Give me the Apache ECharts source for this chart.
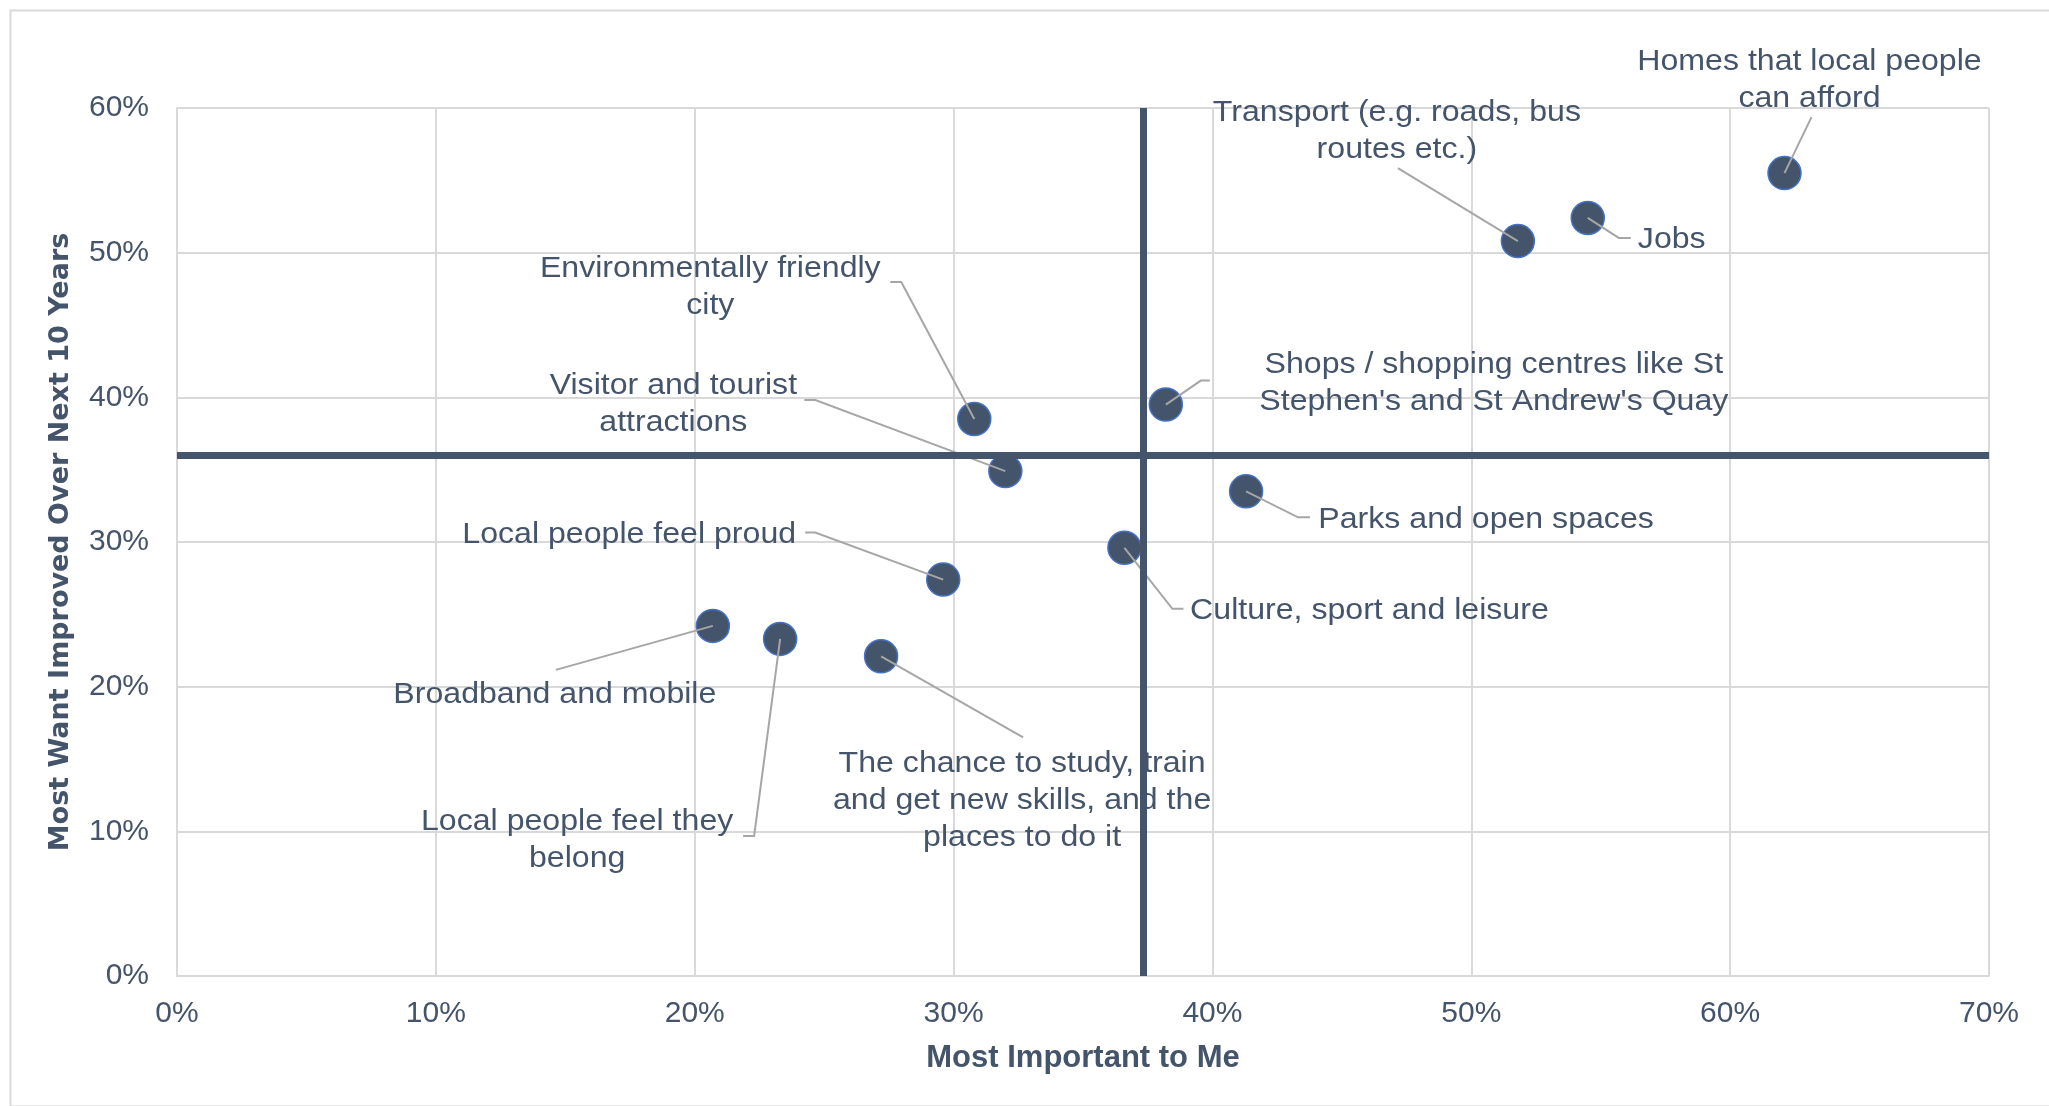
<!DOCTYPE html>
<html>
<head>
<meta charset="utf-8">
<script src="https://cdn.jsdelivr.net/npm/echarts@6/dist/echarts.min.js"></script>
<style>
  html, body { margin: 0; padding: 0; background: #ffffff; }
  #chart { width: 2049px; height: 1106px; }
</style>
</head>
<body>
<div id="chart"></div>
<script>
// ---- data ----
const categories = [
  'Homes that local people can afford',
  'Jobs',
  'Transport (e.g. roads, bus routes etc.)',
  "Shops / shopping centres like St Stephen's and St Andrew's Quay",
  'Environmentally friendly city',
  'Visitor and tourist attractions',
  'Parks and open spaces',
  'Culture, sport and leisure',
  'Local people feel proud',
  'Broadband and mobile',
  'Local people feel they belong',
  'The chance to study, train and get new skills, and the places to do it'
];
const displayLabels = [
  'Homes that local people\ncan afford',
  'Jobs',
  'Transport (e.g. roads, bus\nroutes etc.)',
  "Shops / shopping centres like St\nStephen's and St Andrew's Quay",
  'Environmentally friendly\ncity',
  'Visitor and tourist\nattractions',
  'Parks and open spaces',
  'Culture, sport and leisure',
  'Local people feel proud',
  'Broadband and mobile',
  'Local people feel they\nbelong',
  'The chance to study, train\nand get new skills, and the\nplaces to do it'
];
const mostImportant = [62.1, 54.5, 51.8, 38.2, 30.8, 32.0, 41.3, 36.6, 29.6, 20.7, 23.3, 27.2];
const mostWantImproved = [55.5, 52.4, 50.8, 39.5, 38.5, 34.9, 33.5, 29.6, 27.4, 24.2, 23.3, 22.1];
const xTicks = [0, 10, 20, 30, 40, 50, 60, 70];
const yTicks = [0, 10, 20, 30, 40, 50, 60];

// ---- label placement (pixel offsets from each point; styling only) ----
const labelLayout = [
  { label: [25, -93],   leader: [[27, -56]] },
  { label: [84, 22],    leader: [[31, 20], [43, 20]] },
  { label: [-121, -110], leader: [[-120, -73]] },
  { label: [328, -21],  leader: [[35, -24], [44, -24]] },
  { label: [-264, -132], leader: [[-73, -137], [-84, -137]] },
  { label: [-332, -67], leader: [[-190, -71], [-201, -71]] },
  { label: [240, 28],   leader: [[52, 26], [64, 26]] },
  { label: [245, 63],   leader: [[48, 61], [59, 61]] },
  { label: [-314, -45], leader: [[-128, -47], [-138, -47]] },
  { label: [-158, 69],  leader: [[-157, 44]] },
  { label: [-203, 201], leader: [[-26, 197], [-37, 197]] },
  { label: [141, 144],  leader: [[142, 81]] }
];

const points = mostImportant.map((x, i) => [x, mostWantImproved[i], categories[i]]);

const textColor = '#44546A';
const gridColor = '#D9D9D9';
const fontArial = "'Liberation Sans', Arial, sans-serif";

const chart = echarts.init(document.getElementById('chart'), null, { renderer: 'canvas' });
chart.setOption({
  animation: false,
  backgroundColor: '#ffffff',
  graphic: [{
    type: 'rect', left: 8, top: 8, silent: true,
    shape: { width: 2100, height: 1096 },
    style: { fill: 'none', stroke: gridColor, lineWidth: 2 }
  }],
  grid: { left: 177, right: 60, top: 108, bottom: 130, containLabel: false },
  xAxis: {
    type: 'value', min: xTicks[0], max: xTicks[xTicks.length - 1], interval: 10,
    name: 'Most Important to Me', nameLocation: 'middle', nameGap: 67,
    nameTextStyle: { color: textColor, fontSize: 31, fontWeight: 'bold', fontFamily: fontArial },
    axisLine: { show: true, lineStyle: { color: gridColor, width: 2 } },
    axisTick: { show: false },
    splitLine: { show: true, lineStyle: { color: gridColor, width: 2 } },
    axisLabel: { formatter: '{value}%', color: textColor, fontSize: 30, fontFamily: fontArial, margin: 23 }
  },
  yAxis: {
    type: 'value', min: yTicks[0], max: yTicks[yTicks.length - 1], interval: 10,
    name: 'Most Want Improved Over Next 10 Years', nameLocation: 'middle', nameGap: 103, nameRotate: 90,
    nameTextStyle: { color: textColor, fontSize: 27, fontWeight: 'bold', fontFamily: "'DejaVu Sans', Verdana, sans-serif" },
    axisLine: { show: true, lineStyle: { color: gridColor, width: 2 } },
    axisTick: { show: false },
    splitLine: { show: true, lineStyle: { color: gridColor, width: 2 } },
    axisLabel: { formatter: '{value}%', color: textColor, fontSize: 30, fontFamily: fontArial, margin: 28 }
  },
  series: [
    {
      type: 'scatter', name: 'points', z: 2, silent: true,
      data: points,
      symbol: 'circle', symbolSize: 33,
      itemStyle: { color: textColor, borderColor: '#4472C4', borderWidth: 1.5, opacity: 1 }
    },
    {
      type: 'custom', name: 'labels', z: 3, silent: true,
      data: points,
      encode: { x: 0, y: 1 },
      renderItem: function (params, api) {
        const i = params.dataIndex;
        const p = api.coord([api.value(0), api.value(1)]);
        const L = labelLayout[i];
        const pts = [p].concat(L.leader.map(o => [p[0] + o[0], p[1] + o[1]]));
        return {
          type: 'group',
          children: [
            { type: 'polyline', shape: { points: pts }, style: { stroke: '#A6A6A6', lineWidth: 2, fill: null } },
            {
              type: 'text', x: p[0] + L.label[0], y: p[1] + L.label[1], scaleX: 1.07,
              style: {
                text: displayLabels[i], fill: textColor, fontSize: 30, fontFamily: fontArial,
                align: 'center', verticalAlign: 'middle', lineHeight: 37
              }
            }
          ]
        };
      }
    },
    {
      type: 'scatter', name: 'averages', z: 5, silent: true,
      data: points, symbolSize: 0,
      itemStyle: { opacity: 0 },
      markLine: {
        silent: true, symbol: ['none', 'none'], animation: false,
        label: { show: false },
        lineStyle: { color: textColor, width: 7, type: 'solid' },
        emphasis: { disabled: true },
        data: [
          { type: 'average', valueIndex: 0 },
          { type: 'average', valueIndex: 1 }
        ]
      }
    }
  ]
});
</script>
</body>
</html>
